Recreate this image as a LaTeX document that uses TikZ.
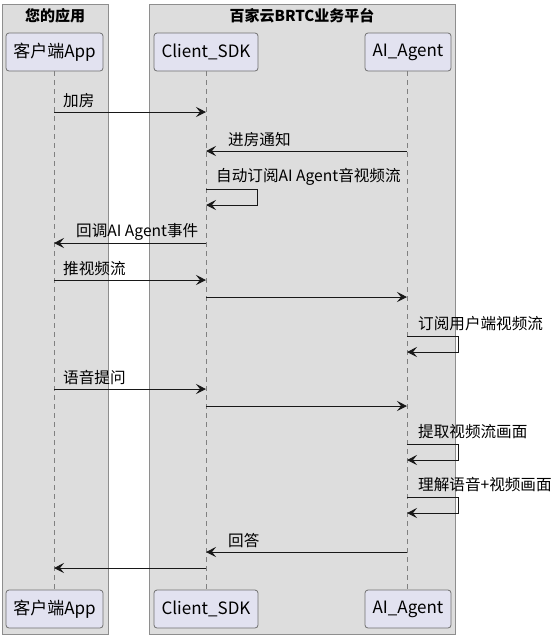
\documentclass[tikz,border=0pt]{standalone}
\usepackage{fontspec}
\setmainfont{Noto Sans CJK SC}
\usetikzlibrary{arrows.meta}
\definecolor{boxfill}{HTML}{DDDDDD}
\definecolor{boxline}{HTML}{8E8E8E}
\definecolor{partfill}{HTML}{E2E2F0}
\definecolor{partline}{HTML}{707070}
\definecolor{ink}{HTML}{181818}
\definecolor{life}{HTML}{808080}
\begin{document}
\begin{tikzpicture}[x=1pt,y=-1pt,
  grp/.style={draw=boxline, fill=boxfill, line width=1pt, inner sep=0},
  grptitle/.style={font=\fontsize{15}{15}\selectfont\bfseries, inner sep=0},
  part/.style={draw=partline, fill=partfill, rounded corners=3pt, line width=0.8pt, minimum height=38pt, inner sep=0, font=\fontsize{17}{17}\selectfont},
  lifeline/.style={draw=life, dash pattern=on 5pt off 4pt, line width=1pt},
  msg/.style={draw=ink, line width=1pt, -{Stealth[length=10pt,width=10pt,inset=4pt]}},
  lbl/.style={font=\fontsize{15.6}{15.6}\selectfont, inner sep=0, anchor=west, text=black}
]
\useasboundingbox (0,0) rectangle (556,638);
% groups
\node[grp, minimum width=106pt, minimum height=630pt] (g1) at (55,319) {};
\node[grp, minimum width=306pt, minimum height=630pt] (g2) at (302,319) {};
\node[grptitle] (g1t) at (55,16) {您的应用};
\node[grptitle] (g2t) at (302,16) {百家云BRTC业务平台};
% participants
\node[part, minimum width=97pt] (appT) at (54.5,52) {客户端App};
\node[part, minimum width=104pt] (sdkT) at (206,52) {Client\_SDK};
\node[part, minimum width=86pt] (agT) at (408,52) {AI\_Agent};
\node[part, minimum width=97pt] (appB) at (54.5,609) {客户端App};
\node[part, minimum width=104pt] (sdkB) at (206,609) {Client\_SDK};
\node[part, minimum width=86pt] (agB) at (408,609) {AI\_Agent};
% lifelines
\draw[lifeline] (appT.south -| 54,0) -- (appB.north -| 54,0);
\draw[lifeline] (sdkT.south) -- (sdkB.north);
\draw[lifeline] (agT.south -| 407,0) -- (agB.north -| 407,0);
% points on lifelines
\coordinate (a1) at (54,112); \coordinate (s1) at (206,112);
\coordinate (s2) at (206,151); \coordinate (g2p) at (407,151);
\coordinate (s3a) at (206,189); \coordinate (s3b) at (206,205);
\coordinate (s4) at (206,243); \coordinate (a4) at (54,243);
\coordinate (a5) at (54,280); \coordinate (s5) at (206,280);
\coordinate (s6) at (206,297); \coordinate (g6) at (407,297);
\coordinate (g7a) at (407,336); \coordinate (g7b) at (407,352);
\coordinate (a8) at (54,389); \coordinate (s8) at (206,389);
\coordinate (s9) at (206,406); \coordinate (g9) at (407,406);
\coordinate (g10a) at (407,444); \coordinate (g10b) at (407,460);
\coordinate (g11a) at (407,497); \coordinate (g11b) at (407,513);
\coordinate (g12) at (407,552); \coordinate (s12) at (206,552);
\coordinate (s13) at (206,568); \coordinate (a13) at (54,568);
% messages
\draw[msg] (a1) -- (s1);
\node[lbl] (l1) at (63,101) {加房};
\draw[msg] (g2p) -- (s2);
\node[lbl] (l2) at (228,140) {进房通知};
\draw[msg] (s3a) -- ++(51,0) |- (s3b);
\node[lbl] (l3) at (216,177) {自动订阅AI Agent音视频流};
\draw[msg] (s4) -- (a4);
\node[lbl] (l4) at (76,232) {回调AI Agent事件};
\draw[msg] (a5) -- (s5);
\node[lbl] (l5) at (63,269) {推视频流};
\draw[msg] (s6) -- (g6);
\draw[msg] (g7a) -- ++(51,0) |- (g7b);
\node[lbl] (l7) at (418,324) {订阅用户端视频流};
\draw[msg] (a8) -- (s8);
\node[lbl] (l8) at (63,378) {语音提问};
\draw[msg] (s9) -- (g9);
\draw[msg] (g10a) -- ++(51,0) |- (g10b);
\node[lbl] (l10) at (418,432) {提取视频流画面};
\draw[msg] (g11a) -- ++(51,0) |- (g11b);
\node[lbl] (l11) at (418,485) {理解语音+视频画面};
\draw[msg] (g12) -- (s12);
\node[lbl] (l12) at (228,541) {回答};
\draw[msg] (s13) -- (a13);
\end{tikzpicture}
\end{document}
